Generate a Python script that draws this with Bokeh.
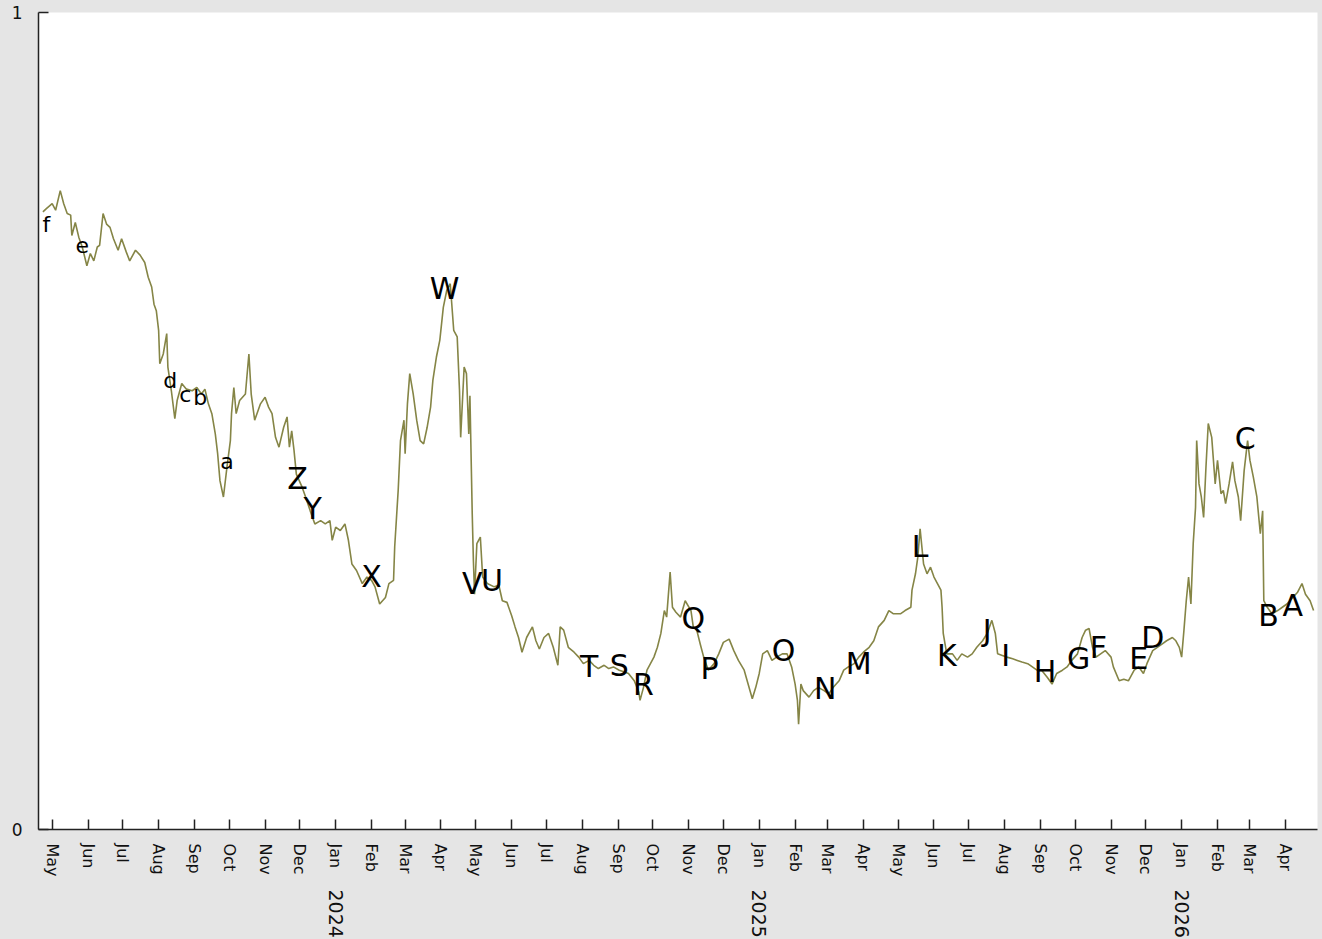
import pandas as pd
from bokeh.plotting import figure
from bokeh.models import FixedTicker, DatetimeAxis, ColumnDataSource, Range1d
from bokeh.embed import file_html
from bokeh.resources import INLINE
from bokeh.core.properties import value

# ---------------- data ----------------
START = "2023-05-01"          # day 0 of the series

day_offset = [
    -8, -5, 0, 3, 7, 10, 13, 16, 17, 20,
    23, 26, 30, 33, 36, 39, 41, 44, 47, 50,
    53, 57, 60, 64, 67, 72, 76, 80, 83, 86,
    88, 90, 92, 93, 96, 99, 100, 103, 106, 108,
    112, 116, 121, 125, 129, 132, 135, 138, 141, 143,
    145, 148, 151, 154, 155, 157, 159, 162, 167, 170,
    172, 175, 180, 184, 187, 190, 193, 196, 200, 203,
    205, 207, 209, 211, 216, 219, 223, 227, 232, 236,
    240, 242, 245, 249, 253, 256, 259, 263, 268, 272,
    276, 279, 283, 288, 291, 295, 296, 299, 301, 304,
    305, 307, 309, 312, 315, 318, 321, 324, 327, 329,
    332, 335, 338, 341, 344, 347, 350, 352, 353, 356, 358,
    360, 361, 363, 364, 365, 367, 370, 372,
    376, 382, 386, 389, 393, 397, 400, 403, 406, 410, 415,
    418, 421, 425, 429, 433, 437, 439, 442, 446, 451,
    455, 459, 464, 468, 472, 477, 481, 485, 490, 494,
    498, 503, 507, 508, 511, 514, 517, 520, 523, 526,
    529, 531, 534, 536, 539, 543, 547, 552, 554, 557,
    560, 563, 567, 572, 576, 580, 585, 589, 593, 598,
    601, 605, 608, 611, 614, 618, 622, 626, 631, 635,
    639, 642, 644, 645, 647, 649, 654, 658, 662, 667,
    671, 675, 680, 684, 688, 693, 697, 701, 706, 710,
    714, 719, 723, 727, 733, 737, 742, 743, 746, 748,
    750, 753, 756, 759, 762, 765, 768, 769, 770, 773,
    778, 782, 786, 791, 795, 799, 804, 808, 812, 815,
    817, 821, 825, 830, 834, 838, 843, 847, 851, 855,
    860, 864, 868, 873, 877, 881, 886, 890, 893, 896,
    899, 902, 906, 910, 915, 917, 922, 926, 930, 935,
    939, 943, 946, 951, 955, 959, 963, 968, 971, 974,
    976, 978, 980, 982, 984, 986, 988, 989, 991, 993,
    995, 997, 999, 1002, 1005, 1007, 1010, 1012, 1014, 1017,
    1020, 1022, 1025, 1027, 1030, 1033, 1035, 1038, 1041, 1044,
    1046, 1047, 1050, 1054, 1059, 1063, 1067, 1072, 1076, 1080, 1083, 1087, 1090,
]

level = [
    0.756, 0.760, 0.766, 0.758, 0.782, 0.766, 0.754, 0.752, 0.727, 0.743,
    0.725, 0.713, 0.690, 0.705, 0.696, 0.713, 0.715, 0.754, 0.741, 0.737,
    0.723, 0.709, 0.723, 0.707, 0.696, 0.709, 0.703, 0.694, 0.676, 0.664,
    0.643, 0.635, 0.611, 0.570, 0.582, 0.607, 0.566, 0.537, 0.503, 0.525,
    0.546, 0.539, 0.537, 0.541, 0.533, 0.539, 0.521, 0.509, 0.484, 0.460,
    0.427, 0.407, 0.443, 0.476, 0.509, 0.541, 0.509, 0.525, 0.533, 0.582,
    0.533, 0.501, 0.521, 0.529, 0.517, 0.509, 0.480, 0.468, 0.492, 0.505,
    0.468, 0.488, 0.464, 0.435, 0.419, 0.407, 0.390, 0.374, 0.378, 0.374,
    0.378, 0.354, 0.370, 0.366, 0.374, 0.354, 0.325, 0.317, 0.301, 0.309,
    0.305, 0.297, 0.276, 0.284, 0.301, 0.305, 0.346, 0.415, 0.476, 0.501,
    0.460, 0.521, 0.558, 0.533, 0.501, 0.476, 0.472, 0.492, 0.517, 0.550,
    0.578, 0.599, 0.639, 0.660, 0.668, 0.611, 0.603, 0.537, 0.480, 0.566, 0.558,
    0.484, 0.531, 0.386, 0.329, 0.288, 0.350, 0.358, 0.309,
    0.301, 0.297, 0.299, 0.280, 0.278, 0.262, 0.248, 0.235, 0.217, 0.235, 0.248,
    0.231, 0.221, 0.235, 0.240, 0.223, 0.201, 0.248, 0.244, 0.223, 0.217,
    0.211, 0.203, 0.207, 0.201, 0.197, 0.201, 0.197, 0.199, 0.195, 0.193,
    0.191, 0.182, 0.168, 0.158, 0.174, 0.195, 0.203, 0.211, 0.223, 0.240,
    0.268, 0.260, 0.315, 0.272, 0.266, 0.260, 0.280, 0.268, 0.248, 0.244,
    0.227, 0.211, 0.195, 0.203, 0.215, 0.229, 0.233, 0.219, 0.207, 0.195,
    0.180, 0.160, 0.174, 0.191, 0.215, 0.219, 0.207, 0.211, 0.215, 0.215,
    0.199, 0.178, 0.158, 0.129, 0.178, 0.170, 0.162, 0.170, 0.174, 0.170,
    0.166, 0.174, 0.182, 0.195, 0.199, 0.203, 0.211, 0.217, 0.223, 0.231,
    0.248, 0.256, 0.268, 0.264, 0.264, 0.268, 0.272, 0.293, 0.313, 0.333,
    0.368, 0.325, 0.313, 0.321, 0.309, 0.301, 0.293, 0.272, 0.240, 0.215,
    0.215, 0.207, 0.215, 0.211, 0.215, 0.223, 0.231, 0.240, 0.256, 0.240,
    0.215, 0.213, 0.211, 0.209, 0.207, 0.205, 0.203, 0.199, 0.195, 0.195,
    0.186, 0.178, 0.191, 0.195, 0.199, 0.207, 0.215, 0.235, 0.244, 0.246,
    0.223, 0.211, 0.215, 0.219, 0.211, 0.199, 0.182, 0.184, 0.182, 0.195,
    0.199, 0.191, 0.203, 0.219, 0.223, 0.227, 0.231, 0.235, 0.231, 0.223,
    0.211, 0.244, 0.280, 0.309, 0.276, 0.350, 0.394, 0.476, 0.423, 0.407,
    0.382, 0.443, 0.497, 0.480, 0.423, 0.452, 0.411, 0.415, 0.399, 0.423,
    0.450, 0.427, 0.407, 0.378, 0.439, 0.476, 0.452, 0.431, 0.407, 0.362,
    0.390, 0.280, 0.272, 0.264, 0.268, 0.272, 0.276, 0.284, 0.290, 0.301, 0.288, 0.280, 0.268,
]

label_text = ["f", "e", "d", "c", "b", "a",
              "Z", "Y", "X", "W", "V", "U", "T", "S", "R", "Q", "P", "O", "N",
              "M", "L", "K", "J", "I", "H", "G", "F", "E", "D", "C", "B", "A"]
label_day = [-5, 26, 102, 115, 128, 151,
             212, 225, 276, 339, 363, 380, 464, 490, 511, 554, 568, 632, 668,
             697, 750, 773, 808, 824, 858, 887, 904, 939, 951, 1031, 1051, 1072]
label_level = [0.741, 0.715, 0.550, 0.533, 0.529, 0.450,
               0.430, 0.393, 0.310, 0.662, 0.301, 0.305, 0.199, 0.201, 0.178, 0.258, 0.197, 0.219, 0.172,
               0.203, 0.346, 0.213, 0.244, 0.213, 0.193, 0.209, 0.223, 0.209, 0.235, 0.478, 0.262, 0.274]

month_labels = ["May", "Jun", "Jul", "Aug", "Sep", "Oct", "Nov", "Dec",
                "Jan", "Feb", "Mar", "Apr", "May", "Jun", "Jul", "Aug", "Sep", "Oct", "Nov", "Dec",
                "Jan", "Feb", "Mar", "Apr", "May", "Jun", "Jul", "Aug", "Sep", "Oct", "Nov", "Dec",
                "Jan", "Feb", "Mar", "Apr"]
year_ticks = ["2024-01-01", "2025-01-01", "2026-01-01"]
year_labels = ["2024", "2025", "2026"]

y_ticks = [0, 1]

# ---------------- build ----------------
DAY = 86400000.0
t0 = pd.Timestamp(START).value / 1e6

n = min(len(day_offset), len(level))
xs = [t0 + d * DAY for d in day_offset[:n]]
ys = level[:n]

month_ms = [float(ts.value // 10**6) for ts in pd.date_range(START, periods=len(month_labels), freq="MS")]
year_ms = [float(pd.Timestamp(s).value // 10**6) for s in year_ticks]

p = figure(x_axis_type="datetime",
           frame_width=1279, frame_height=817,
           min_border_left=38, min_border_right=5, min_border_top=12, min_border_bottom=110,
           x_range=Range1d(t0 - 11.8 * DAY, t0 + 1093.4 * DAY),
           y_range=Range1d(0, 1),
           output_backend="svg", toolbar_location=None,
           background_fill_color="white", border_fill_color="#e5e5e5",
           outline_line_color=None)
p.grid.visible = False

AX = "#222222"
FONT = "DejaVu Sans"

xa = p.xaxis[0]
xa.ticker = FixedTicker(ticks=month_ms)
xa.major_label_overrides = dict(zip(month_ms, month_labels))
xa.major_label_orientation = "vertical"
xa.major_tick_in = 10
xa.major_tick_out = 0
xa.minor_tick_line_color = None
xa.axis_line_color = AX
xa.axis_line_width = 1.5
xa.major_tick_line_color = AX
xa.major_tick_line_width = 1.5
xa.major_label_text_font = FONT
xa.major_label_text_font_size = "16px"
xa.major_label_text_color = "#111111"
xa.major_label_standoff = 14

yr = DatetimeAxis(ticker=FixedTicker(ticks=year_ms),
                  major_label_overrides=dict(zip(year_ms, year_labels)),
                  major_label_orientation="vertical",
                  axis_line_color=None, major_tick_line_color=None,
                  minor_tick_line_color=None,
                  major_tick_in=0, major_tick_out=0,
                  major_label_standoff=10,
                  major_label_text_font=FONT,
                  major_label_text_font_size="19px",
                  major_label_text_color="#111111")
p.add_layout(yr, "below")

ya = p.yaxis[0]
ya.ticker = FixedTicker(ticks=y_ticks)
ya.major_tick_in = 10
ya.major_tick_out = 0
ya.minor_tick_line_color = None
ya.axis_line_color = AX
ya.axis_line_width = 1.5
ya.major_tick_line_color = AX
ya.major_tick_line_width = 1.5
ya.major_label_text_font = FONT
ya.major_label_text_font_size = "17px"
ya.major_label_text_color = "#111111"
ya.major_label_standoff = 16

src = ColumnDataSource(dict(x=xs, y=ys))
p.line(x="x", y="y", source=src, line_color="#858546", line_width=1.6)

sizes = ["22px" if t.islower() else "30px" for t in label_text]
lab = ColumnDataSource(dict(x=[t0 + d * DAY for d in label_day], y=label_level,
                            text=label_text, size=sizes))
p.text(x="x", y="y", text="text", source=lab, text_align="center",
       text_baseline="middle", text_font=value(FONT), text_font_size="size",
       text_color="black")

open("out.html", "w").write(
    file_html(p, INLINE).replace(
        "<head>", "<head><style>html,body{background:#e5e5e5;overflow:hidden;}</style>", 1))
